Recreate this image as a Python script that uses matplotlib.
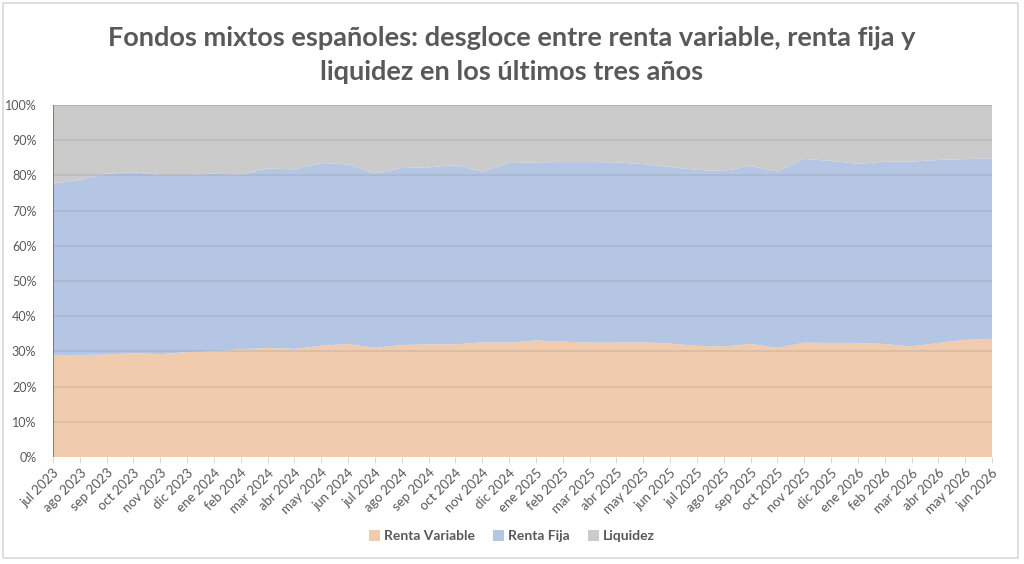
import numpy as np
import matplotlib.pyplot as plt
from matplotlib.patches import Rectangle

# %% datos (porcentaje sobre el total)
meses = ["jul 2023", "ago 2023", "sep 2023", "oct 2023", "nov 2023", "dic 2023",
         "ene 2024", "feb 2024", "mar 2024", "abr 2024", "may 2024", "jun 2024",
         "jul 2024", "ago 2024", "sep 2024", "oct 2024", "nov 2024", "dic 2024",
         "ene 2025", "feb 2025", "mar 2025", "abr 2025", "may 2025", "jun 2025",
         "jul 2025", "ago 2025", "sep 2025", "oct 2025", "nov 2025", "dic 2025",
         "ene 2026", "feb 2026", "mar 2026", "abr 2026", "may 2026", "jun 2026"]

renta_variable = [28.9, 29.0, 29.1, 29.5, 29.2, 29.8, 30.0, 30.6, 31.0, 30.7, 31.6, 32.1,
                  31.0, 31.8, 32.0, 32.0, 32.6, 32.5, 33.1, 32.8, 32.5, 32.5, 32.6, 32.2,
                  31.6, 31.4, 32.1, 31.0, 32.5, 32.4, 32.4, 32.1, 31.4, 32.4, 33.3, 33.5]

# renta variable + renta fija (borde superior del area azul)
acumulado_rf = [77.6, 78.8, 80.5, 80.9, 80.1, 80.1, 80.5, 80.2, 82.0, 81.7, 83.5, 83.1,
                80.6, 82.1, 82.3, 82.9, 81.1, 83.5, 83.7, 83.8, 83.8, 83.7, 83.2, 82.4,
                81.6, 81.2, 82.7, 81.1, 84.7, 84.1, 83.3, 83.9, 83.9, 84.4, 84.6, 84.9]

renta_fija = [a - b for a, b in zip(acumulado_rf, renta_variable)]
liquidez = [100 - a for a in acumulado_rf]

series = ["Renta Variable", "Renta Fija", "Liquidez"]
colores = ["#F1CBAE", "#B4C6E4", "#CBCBCB"]

# %% figura
plt.rcParams['font.family'] = ['Lato', 'DejaVu Sans']
texto = "#595959"

fig = plt.figure(figsize=(10.24, 5.64), dpi=100)
fig.patches.append(Rectangle((3 / 1024, 6 / 564), 1015 / 1024, 555 / 564,
                             transform=fig.transFigure, fill=False,
                             edgecolor="#D9D9D9", linewidth=1.2))

ax = fig.add_axes([53 / 1024, 1 - 457 / 564, 939 / 1024, 352 / 564])
x = np.arange(len(meses))
ax.stackplot(x, renta_variable, renta_fija, liquidez, colors=colores,
             labels=series, linewidth=0)

# lineas de rejilla por encima de las areas
for v in range(10, 101, 10):
    ax.axhline(v, color="#8c8c8c", alpha=0.25 if v < 100 else 0.45, linewidth=1.2)
ax.axvline(0, color="#4472C4", linewidth=1.2)

ax.set_xlim(0, len(meses) - 1)
ax.set_ylim(0, 100)
ax.set_yticks(range(0, 101, 10))
ax.set_yticklabels([f"{v}%" for v in range(0, 101, 10)], color=texto, fontsize=9)
ax.set_xticks(x)
ax.set_xticklabels(meses, rotation=45, ha="right", rotation_mode="anchor",
                   color=texto, fontsize=9.5)
ax.tick_params(axis="y", length=0, pad=12)
ax.tick_params(axis="x", length=4, color="#D9D9D9", pad=3)
for s in ax.spines.values():
    s.set_visible(False)

fig.text(0.5, 1 - 38 / 564, "Fondos mixtos españoles: desgloce entre renta variable, renta fija y",
         ha="center", va="center", fontsize=19.5, fontweight="bold", color=texto)
fig.text(0.5, 1 - 72 / 564, "liquidez en los últimos tres años",
         ha="center", va="center", fontsize=19.5, fontweight="bold", color=texto)

fig.legend(loc="center", bbox_to_anchor=(0.5, 1 - 536 / 564), ncol=3, frameon=False,
           handlelength=0.8, handleheight=0.8, handletextpad=0.3, columnspacing=1.3,
           prop={"size": 10, "weight": "bold"}, labelcolor=texto)

fig.savefig("out.png", dpi=100)
